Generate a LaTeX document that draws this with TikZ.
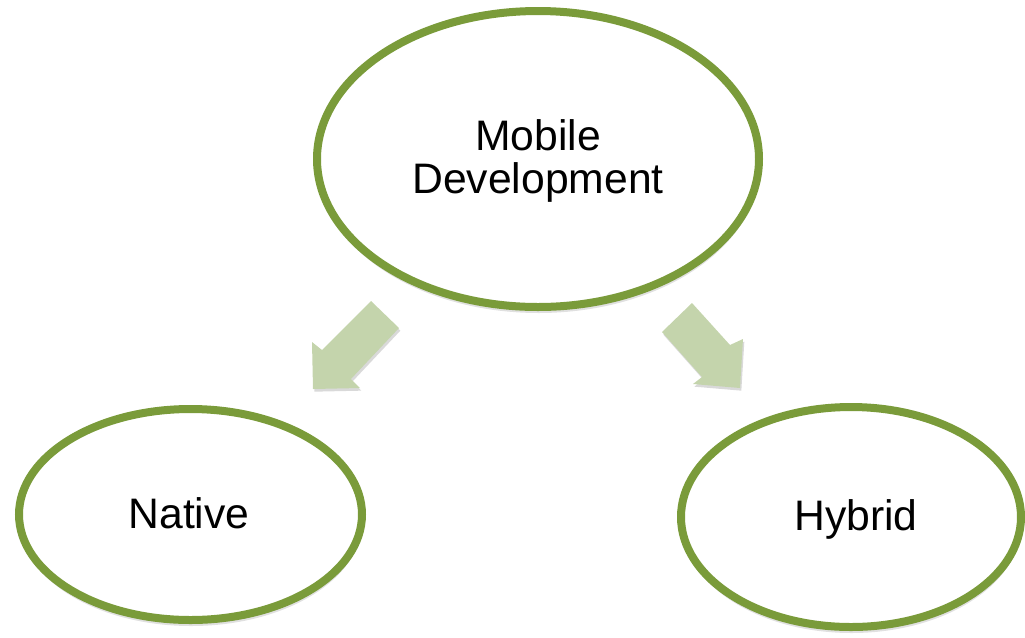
\documentclass[tikz,border=0pt]{standalone}
\usepackage{fontspec}
\setmainfont{Liberation Sans}
\usetikzlibrary{shapes.geometric,shadows}
\definecolor{ringgreen}{RGB}{122,155,58}
\definecolor{arrowgreen}{RGB}{196,212,172}
\tikzset{
  ring/.style={ellipse, draw=ringgreen, line width=6pt, fill=white, inner sep=0pt,
    drop shadow={shadow xshift=0.5pt, shadow yshift=-4.5pt, opacity=0.12, fill=black}},
  lbl/.style={anchor=base, inner sep=0pt, font=\fontsize{32pt}{38pt}\selectfont},
  blockarrow/.style={fill=arrowgreen, draw=none,
    drop shadow={shadow xshift=1pt, shadow yshift=-2pt, opacity=0.15, fill=black}}
}
\begin{document}
\begin{tikzpicture}[x=0.75pt,y=-0.75pt]
\useasboundingbox (0,0) rectangle (1025,637);
% ellipses
\node[ring, minimum width=442*0.75pt, minimum height=296*0.75pt] (mob) at (538,159) {};
\node[ring, minimum width=343*0.75pt, minimum height=211*0.75pt] (nat) at (190.5,514.5) {};
\node[ring, minimum width=340*0.75pt, minimum height=220*0.75pt] (hyb) at (851,517) {};
% labels
\node[lbl] (mobt1) at (538,150) {Mobile};
\node[lbl] (mobt2) at (538,193) {Development};
\node[lbl] (natt) at (189,528) {Native};
\node[lbl] (hybt) at (856,530) {Hybrid};
% block arrows
\coordinate (la1) at (371,301);
\coordinate (la2) at (399,328);
\coordinate (la3) at (351,379);
\coordinate (la4) at (360,388);
\coordinate (la5) at (313,389);
\coordinate (la6) at (312,342);
\coordinate (la7) at (322,350);
\path[blockarrow] (la1) -- (la2) -- (la3) -- (la4) -- (la5) -- (la6) -- (la7) -- cycle;
\coordinate (ra1) at (692,303);
\coordinate (ra2) at (730,345);
\coordinate (ra3) at (743,339);
\coordinate (ra4) at (740,388);
\coordinate (ra5) at (693,384);
\coordinate (ra6) at (702,377);
\coordinate (ra7) at (662,332);
\path[blockarrow] (ra1) -- (ra2) -- (ra3) -- (ra4) -- (ra5) -- (ra6) -- (ra7) -- cycle;
\end{tikzpicture}
\end{document}
